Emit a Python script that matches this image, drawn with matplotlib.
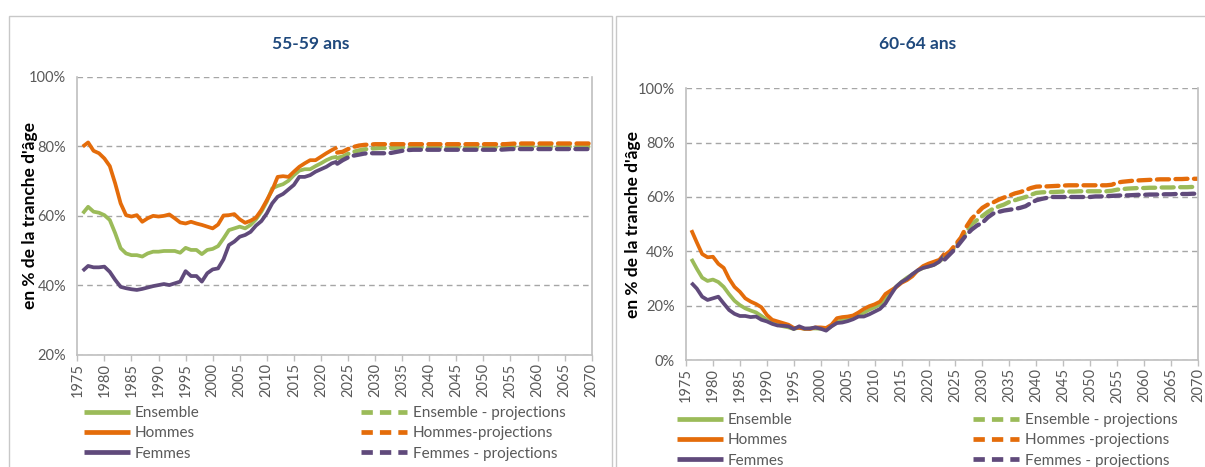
import numpy as np
import matplotlib
matplotlib.use("Agg")
import matplotlib.pyplot as plt
from matplotlib.patches import Rectangle
from matplotlib.lines import Line2D

plt.rcParams['font.family'] = ['Lato', 'DejaVu Sans']

# years
hist_years = list(range(1976, 2024))
proj_years = list(range(2023, 2071))
tick_years = list(range(1975, 2071, 5))

# 55-59 ans, observed
ens_5559 = [60.7, 62.6, 61.2, 60.9, 60.2, 58.8, 55.0, 50.7, 49.2, 48.7,
            48.7, 48.3, 49.2, 49.7, 49.7, 49.9, 49.9, 49.9, 49.4, 50.8,
            50.2, 50.2, 49.0, 50.2, 50.5, 51.3, 53.5, 55.9, 56.4, 56.9,
            56.4, 57.4, 59.0, 61.2, 64.1, 67.9, 68.6, 69.1, 70.1, 71.7,
            73.0, 73.4, 73.4, 74.3, 75.1, 76.0, 76.7, 77.0]
hom_5559 = [79.9, 81.1, 78.7, 78.0, 76.5, 74.3, 69.3, 63.6, 60.2, 59.8,
            60.2, 58.3, 59.3, 60.0, 59.8, 60.0, 60.4, 59.3, 58.1, 57.8,
            58.3, 57.8, 57.4, 56.9, 56.4, 57.5, 60.1, 60.2, 60.5, 59.0,
            58.0, 58.6, 59.5, 61.7, 64.5, 67.4, 71.2, 71.4, 71.2, 72.7,
            74.1, 75.1, 76.0, 76.0, 77.0, 78.0, 78.9, 79.7]
fem_5559 = [44.2, 45.6, 45.2, 45.2, 45.4, 43.9, 41.6, 39.6, 39.2, 38.9,
            38.7, 39.0, 39.4, 39.8, 40.1, 40.4, 40.1, 40.6, 41.1, 44.1,
            42.7, 42.7, 41.1, 43.5, 44.6, 44.9, 47.5, 51.6, 52.6, 54.0,
            54.5, 55.4, 57.2, 58.5, 60.7, 63.6, 65.5, 66.3, 67.6, 68.9,
            71.2, 71.2, 71.7, 72.7, 73.4, 74.1, 75.1, 75.6]

# 55-59 ans, projections
ens_5559_p = [76.6, 77.0, 77.8, 78.4, 78.8, 79.1, 79.3, 79.4, 79.5, 79.5,
              79.5, 79.6, 79.7, 79.7, 79.7, 79.7, 79.7, 79.7, 79.7, 79.7,
              79.7, 79.7, 79.7, 79.7, 79.7, 79.7, 79.7, 79.7, 79.7, 79.7,
              79.7, 79.8, 79.9, 79.9, 79.9, 79.9, 79.9, 79.9, 79.9, 79.9,
              79.9, 79.9, 79.9, 79.9, 79.9, 79.9, 79.9, 79.9]
hom_5559_p = [78.2, 78.4, 79.2, 79.8, 80.2, 80.4, 80.5, 80.6, 80.6, 80.6,
              80.6, 80.6, 80.6, 80.6, 80.6, 80.6, 80.6, 80.6, 80.6, 80.6,
              80.6, 80.6, 80.6, 80.6, 80.6, 80.6, 80.6, 80.6, 80.6, 80.6,
              80.6, 80.6, 80.7, 80.8, 80.8, 80.8, 80.8, 80.8, 80.8, 80.8,
              80.8, 80.8, 80.8, 80.8, 80.8, 80.8, 80.8, 80.8]
fem_5559_p = [75.0, 76.0, 76.8, 77.3, 77.6, 77.9, 78.0, 78.0, 78.0, 78.0,
              78.1, 78.4, 78.7, 78.9, 79.0, 79.0, 79.0, 79.0, 79.0, 79.0,
              79.0, 79.0, 79.0, 79.0, 79.0, 79.0, 79.0, 79.0, 79.0, 79.0,
              79.0, 79.1, 79.2, 79.2, 79.2, 79.2, 79.2, 79.2, 79.2, 79.2,
              79.2, 79.2, 79.2, 79.2, 79.2, 79.2, 79.2, 79.2]

# 60-64 ans, observed
ens_6064 = [37.2, 33.6, 30.3, 29.1, 29.6, 28.7, 26.9, 24.2, 21.8, 20.2,
            19.0, 18.2, 17.5, 16.2, 14.8, 13.6, 13.0, 12.4, 12.0, 11.4,
            12.0, 11.4, 11.6, 11.6, 11.5, 11.2, 12.4, 14.0, 14.6, 15.0,
            15.7, 16.6, 17.4, 18.5, 19.4, 20.4, 22.8, 25.0, 27.0, 28.8,
            30.3, 31.5, 32.9, 33.9, 34.4, 35.0, 36.2, 37.8]
hom_6064 = [47.8, 43.3, 39.0, 37.8, 38.0, 35.4, 33.9, 29.9, 26.9, 25.1,
            22.7, 21.5, 20.6, 19.4, 16.6, 14.8, 14.2, 13.6, 13.0, 11.8,
            11.8, 11.5, 11.4, 12.0, 12.0, 11.8, 13.0, 15.4, 15.8, 16.0,
            16.4, 17.5, 18.8, 19.8, 20.5, 21.5, 24.3, 25.6, 26.8, 28.4,
            29.4, 30.8, 33.0, 34.6, 35.5, 36.2, 36.9, 39.3]
fem_6064 = [28.4, 26.3, 23.3, 22.1, 22.7, 23.3, 20.8, 18.4, 17.0, 16.2,
            16.2, 15.8, 16.0, 14.8, 14.2, 13.3, 12.7, 12.6, 12.4, 11.4,
            12.4, 11.6, 11.6, 12.0, 11.5, 10.8, 12.4, 13.6, 13.8, 14.3,
            15.0, 16.0, 16.0, 16.8, 17.8, 18.8, 20.8, 24.0, 27.0, 28.7,
            29.9, 31.6, 33.0, 33.9, 34.4, 35.0, 36.2, 38.8]

# 60-64 ans, projections
ens_6064_p = [38.0, 39.5, 41.8, 44.5, 47.3, 50.0, 51.5, 53.0, 54.5, 55.7,
              56.5, 57.2, 58.2, 58.8, 59.4, 60.0, 60.8, 61.5, 61.7, 61.8,
              61.8, 61.9, 62.0, 62.0, 62.0, 62.1, 62.1, 62.1, 62.1, 62.1,
              62.1, 62.3, 62.7, 62.9, 63.1, 63.2, 63.3, 63.3, 63.4, 63.4,
              63.5, 63.5, 63.5, 63.6, 63.6, 63.6, 63.7, 63.7]
hom_6064_p = [38.5, 40.0, 42.5, 45.0, 49.0, 52.0, 54.0, 56.0, 57.2, 58.0,
              59.0, 59.8, 60.5, 61.3, 61.8, 62.5, 63.3, 63.8, 63.9, 63.9,
              64.0, 64.1, 64.2, 64.3, 64.3, 64.3, 64.3, 64.3, 64.3, 64.3,
              64.3, 64.5, 65.3, 65.6, 65.8, 66.0, 66.1, 66.2, 66.3, 66.4,
              66.5, 66.5, 66.5, 66.6, 66.6, 66.7, 66.7, 66.7]
fem_6064_p = [37.0, 39.0, 41.0, 43.5, 46.0, 48.0, 49.5, 50.5, 52.5, 53.9,
              54.5, 55.0, 55.3, 55.6, 56.0, 56.6, 57.8, 58.8, 59.3, 59.7,
              60.0, 60.0, 60.0, 60.0, 60.0, 60.0, 60.0, 60.0, 60.2, 60.2,
              60.3, 60.4, 60.5, 60.6, 60.6, 60.7, 60.8, 60.8, 60.9, 60.9,
              60.9, 61.0, 61.0, 61.1, 61.1, 61.1, 61.2, 61.2]

green = '#9BBB59'
orange = '#E46C0A'
purple = '#604A7B'
grey_txt = '#595959'

W, H = 1205, 467
fig = plt.figure(figsize=(W / 100, H / 100), dpi=100)

# panel frames
fig.patches.append(Rectangle((9 / W, -0.02), 603 / W, 1 - 16 / H + 0.02,
                             transform=fig.transFigure, fill=False,
                             edgecolor='#C8C8C8', lw=1))
fig.patches.append(Rectangle((616 / W, -0.02), 600 / W, 1 - 16 / H + 0.02,
                             transform=fig.transFigure, fill=False,
                             edgecolor='#C8C8C8', lw=1))

panels = [
    dict(box=[77.3, 76.7, 591.7, 355], ylim=(20, 100), title='55-59 ans',
         tx=311, ylx=-0.076,
         data=(ens_5559, hom_5559, fem_5559, ens_5559_p, hom_5559_p, fem_5559_p),
         labels=('Ensemble', 'Hommes', 'Femmes', 'Ensemble - projections',
                 'Hommes-projections', 'Femmes - projections'),
         leg1=84, leg2=361, legy=411),
    dict(box=[686, 88.3, 1198, 360], ylim=(0, 100), title='60-64 ans',
         tx=918, ylx=-0.088,
         data=(ens_6064, hom_6064, fem_6064, ens_6064_p, hom_6064_p, fem_6064_p),
         labels=('Ensemble', 'Hommes', 'Femmes', 'Ensemble - projections',
                 'Hommes -projections', 'Femmes - projections'),
         leg1=677, leg2=973, legy=418),
]

for p in panels:
    x0, y0, x1, y1 = p['box']
    ax = fig.add_axes([x0 / W, 1 - y1 / H, (x1 - x0) / W, (y1 - y0) / H])
    e, h, f, ep, hp, fp = p['data']
    cols = [green, orange, purple]
    for vals, c in zip((e, h, f), cols):
        ax.plot(hist_years, vals, color=c, lw=2.7, solid_capstyle='butt',
                solid_joinstyle='round')
    for vals, c in zip((ep, hp, fp), cols):
        ax.plot(proj_years, vals, color=c, lw=3.1, dashes=(2.8, 1.5),
                dash_capstyle='round')

    ax.set_xlim(1975, 2070)
    ax.set_ylim(*p['ylim'])
    ax.set_xticks(tick_years)
    ax.set_xticklabels([str(y) for y in tick_years], rotation=90)
    yt = np.arange(p['ylim'][0], 101, 20)
    ax.set_yticks(yt)
    ax.set_yticklabels(['%d%%' % v for v in yt])
    ax.tick_params(axis='y', length=0, pad=8, labelsize=10.5, labelcolor=grey_txt)
    ax.tick_params(axis='x', length=4, width=1, color='#BFBFBF', pad=2,
                   labelsize=10.5, labelcolor=grey_txt)
    ax.grid(axis='y', color='#A6A6A6', lw=1, dashes=(4, 3))
    ax.set_axisbelow(True)
    for s in ['left', 'bottom', 'right']:
        ax.spines[s].set_color('#BFBFBF')
        ax.spines[s].set_linewidth(1.2)
    ax.spines['top'].set_visible(False)

    ax.set_ylabel("en % de la tranche d'âge", fontsize=12.5, fontweight='bold',
                  color='black')
    ax.yaxis.set_label_coords(p['ylx'], 0.5)

    fig.text(p['tx'] / W, 1 - 44 / H, p['title'], ha='center', va='center',
             fontsize=12.5, fontweight='bold', color='#1F497D')

    lab = p['labels']
    solid = [Line2D([], [], color=c, lw=3.4, solid_capstyle='butt') for c in cols]
    dashed = [Line2D([], [], color=c, lw=3.4, dashes=(2.4, 1.5)) for c in cols]
    top = 1 - (p['legy'] - 5) / H
    l1 = fig.legend(solid, lab[:3], loc='upper left',
                    bbox_to_anchor=(p['leg1'] / W, top), frameon=False,
                    fontsize=11, handlelength=3.0, handletextpad=0.3,
                    labelspacing=0.42, borderpad=0, borderaxespad=0,
                    labelcolor=grey_txt)
    l2 = fig.legend(dashed, lab[3:], loc='upper left',
                    bbox_to_anchor=(p['leg2'] / W, top), frameon=False,
                    fontsize=11, handlelength=3.0, handletextpad=0.4,
                    labelspacing=0.42, borderpad=0, borderaxespad=0,
                    labelcolor=grey_txt)

fig.savefig('out.png', dpi=100)
